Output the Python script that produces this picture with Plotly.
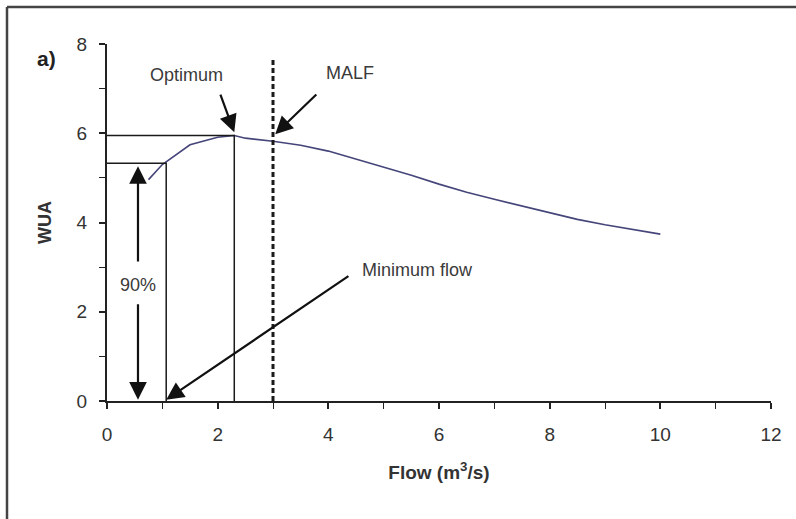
import plotly.graph_objects as go

# Curve data (Flow m3/s vs WUA)
flow = [0.75, 1.0, 1.5, 2.0, 2.3, 2.5, 3.0, 3.5, 4.0, 4.5, 5.0, 5.5, 6.0, 6.5, 7.0, 7.5, 8.0, 8.5, 9.0, 9.5, 10.0]
wua = [4.96, 5.30, 5.74, 5.91, 5.95, 5.89, 5.82, 5.73, 5.60, 5.42, 5.23, 5.06, 4.86, 4.68, 4.52, 4.37, 4.21, 4.07, 3.95, 3.84, 3.74]

# Reference values
optimum_flow = 2.3
optimum_wua = 5.95
min_flow = 1.07
min_wua = 5.33
malf_flow = 3.0
malf_top = 7.7
pct_flow = 0.56

x_ticks = [0, 2, 4, 6, 8, 10, 12]
y_ticks = [0, 2, 4, 6, 8]

FONT = "Liberation Sans, Arial, sans-serif"
LINE = "#1a1a1a"

fig = go.Figure()

fig.add_trace(go.Scatter(x=flow, y=wua, mode="lines",
                         line=dict(color="#45457a", width=1.6), showlegend=False, hoverinfo="skip"))

# Optimum reference lines
fig.add_trace(go.Scatter(x=[0, optimum_flow, optimum_flow], y=[optimum_wua, optimum_wua, 0],
                         mode="lines", line=dict(color=LINE, width=1.5), showlegend=False, hoverinfo="skip"))
# Minimum flow reference lines
fig.add_trace(go.Scatter(x=[0, min_flow, min_flow], y=[min_wua, min_wua, 0],
                         mode="lines", line=dict(color=LINE, width=1.5), showlegend=False, hoverinfo="skip"))
# MALF dashed line
fig.add_trace(go.Scatter(x=[malf_flow, malf_flow], y=[0, malf_top],
                         mode="lines", line=dict(color=LINE, width=3, dash="5px,3px"),
                         showlegend=False, hoverinfo="skip"))

def arrow(x, y, ax, ay):
    return dict(x=x, y=y, ax=ax, ay=ay, xref="x", yref="y", axref="x", ayref="y",
                text="", showarrow=True, arrowhead=2, arrowsize=1.6, arrowwidth=2.2,
                arrowcolor="#111", standoff=0, startstandoff=0)

annotations = [
    arrow(optimum_flow, 6.02, 2.04, 6.90),
    arrow(malf_flow + 0.04, 5.98, 3.81, 6.90),
    arrow(min_flow, 0.03, 4.39, 2.82),
    arrow(pct_flow, 5.26, pct_flow, 3.09),
    arrow(pct_flow, 0.03, pct_flow, 2.20),
    dict(x=1.43, y=7.31, xref="x", yref="y", text="Optimum", showarrow=False,
         font=dict(family=FONT, size=18, color="#3a3a3a")),
    dict(x=4.39, y=7.35, xref="x", yref="y", text="MALF", showarrow=False,
         font=dict(family=FONT, size=18, color="#3a3a3a")),
    dict(x=5.62, y=2.94, xref="x", yref="y", text="Minimum flow", showarrow=False,
         font=dict(family=FONT, size=18, color="#3a3a3a")),
    dict(x=pct_flow, y=2.60, xref="x", yref="y", text="90%", showarrow=False,
         font=dict(family=FONT, size=18, color="#3a3a3a")),
    dict(x=-0.108, y=0.997, xref="paper", yref="paper", text="<b>a)</b>", showarrow=False,
         font=dict(family=FONT, size=21, color="#222")),
]

fig.update_layout(
    width=796, height=519,
    margin=dict(l=107, r=25, t=44, b=118),
    paper_bgcolor="white", plot_bgcolor="white",
    font=dict(family=FONT, size=18, color="#333"),
    annotations=annotations,
    shapes=[
        dict(type="line", xref="paper", yref="paper", x0=-0.1506, x1=-0.1506, y0=-0.5, y1=1.1036,
             line=dict(color="#444", width=2.5)),
        dict(type="line", xref="paper", yref="paper", x0=-0.1506, x1=1.2, y0=1.1036, y1=1.1036,
             line=dict(color="#444", width=2.5)),
    ],
    xaxis=dict(range=[0, 12], tickvals=x_ticks, ticks="outside", ticklen=6, tickwidth=1.5,
               tickcolor="#222", showline=True, linecolor="#222", linewidth=2, showgrid=False,
               zeroline=False, tickfont=dict(size=19, color="#333"), ticklabelstandoff=9,
               minor=dict(ticks="outside", ticklen=6, tickwidth=1.2, tickcolor="#222", dtick=1, showgrid=False),
               title=dict(text="<b>Flow (m<sup>3</sup>/s)</b>", font=dict(size=19, color="#333"), standoff=22)),
    yaxis=dict(range=[0, 8], tickvals=y_ticks, ticks="outside", ticklen=6, tickwidth=1.5,
               tickcolor="#222", showline=True, linecolor="#222", linewidth=2, showgrid=False,
               zeroline=False, tickfont=dict(size=19, color="#333"), ticklabelstandoff=8,
               minor=dict(ticks="outside", ticklen=6, tickwidth=1.2, tickcolor="#222", dtick=1, showgrid=False),
               title=dict(text="<b>WUA</b>", font=dict(size=18, color="#333"), standoff=20)),
)

fig.write_html("out.html")
